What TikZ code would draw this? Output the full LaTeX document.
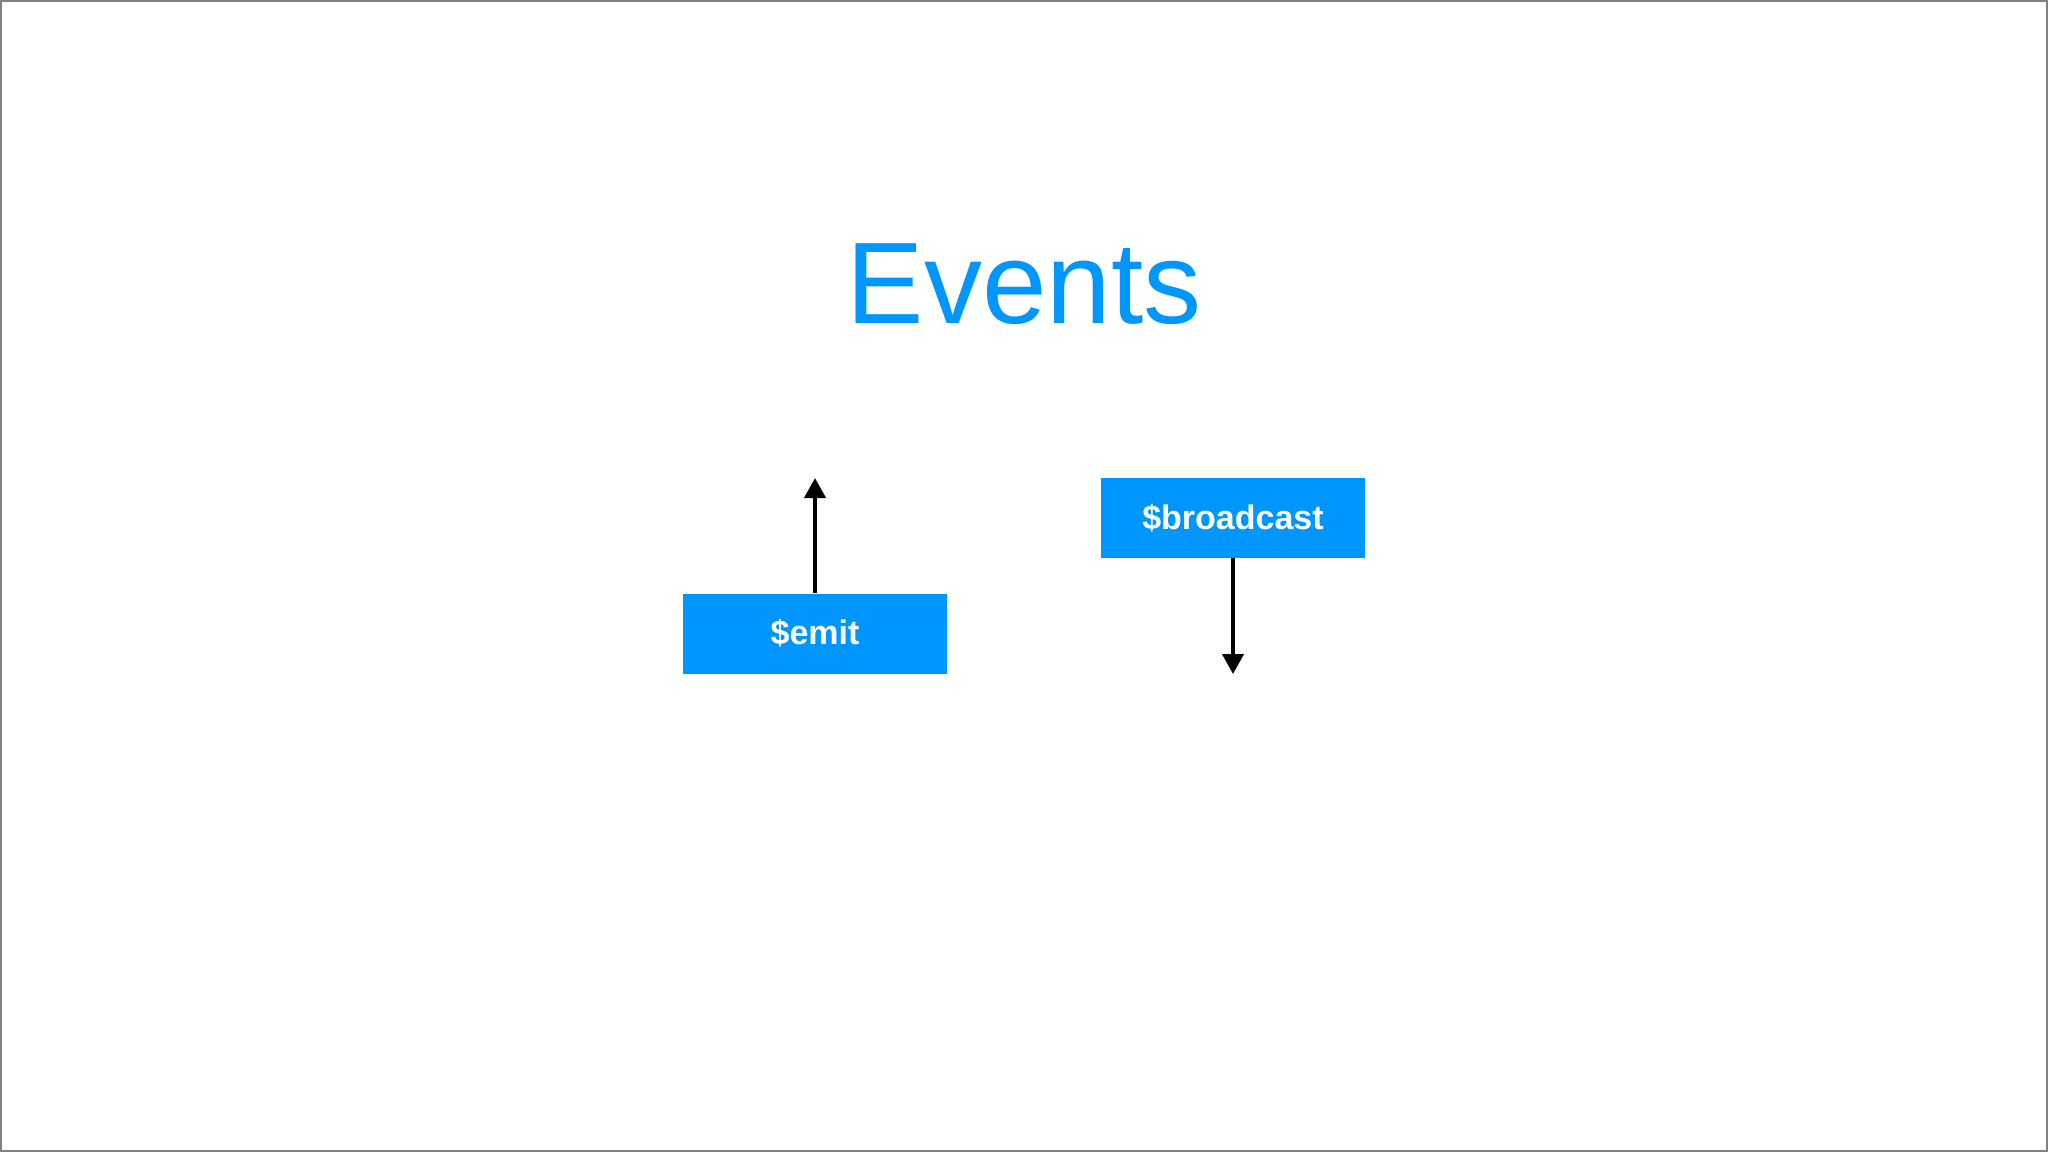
\documentclass[tikz,border=0pt]{standalone}
\usepackage{fontspec}
\setmainfont{Liberation Sans}
\usetikzlibrary{arrows.meta}
\definecolor{evblue}{RGB}{0,150,255}
\tikzset{
  evbox/.style={fill=evblue, text=white, font=\fontsize{17}{18}\selectfont\bfseries,
    minimum width=132pt, minimum height=40pt, inner sep=0pt},
  evarrow/.style={line width=2pt, -{Triangle[width=10.5pt,length=10pt]}}
}
\begin{document}
\begin{tikzpicture}[x=0.5pt,y=-0.5pt]
        \useasboundingbox (0,0) rectangle (2048,1152);
        \draw[gray, line width=1pt] (1,1) rectangle (2047,1151);
        \node[anchor=base, text=evblue, font=\fontsize{58}{60}\selectfont] (title) at (1024,323) {Events};
        \node[evbox] (emit) at (815,633.5) {\$emit};
        \node[evbox] (broadcast) at (1233,518) {\$broadcast};
        \coordinate (up) at (815,478);
        \coordinate (down) at (1233,674);
        \draw[evarrow] (emit) -- (up);
        \draw[evarrow] (broadcast) -- (down);
      \end{tikzpicture}
\end{document}
